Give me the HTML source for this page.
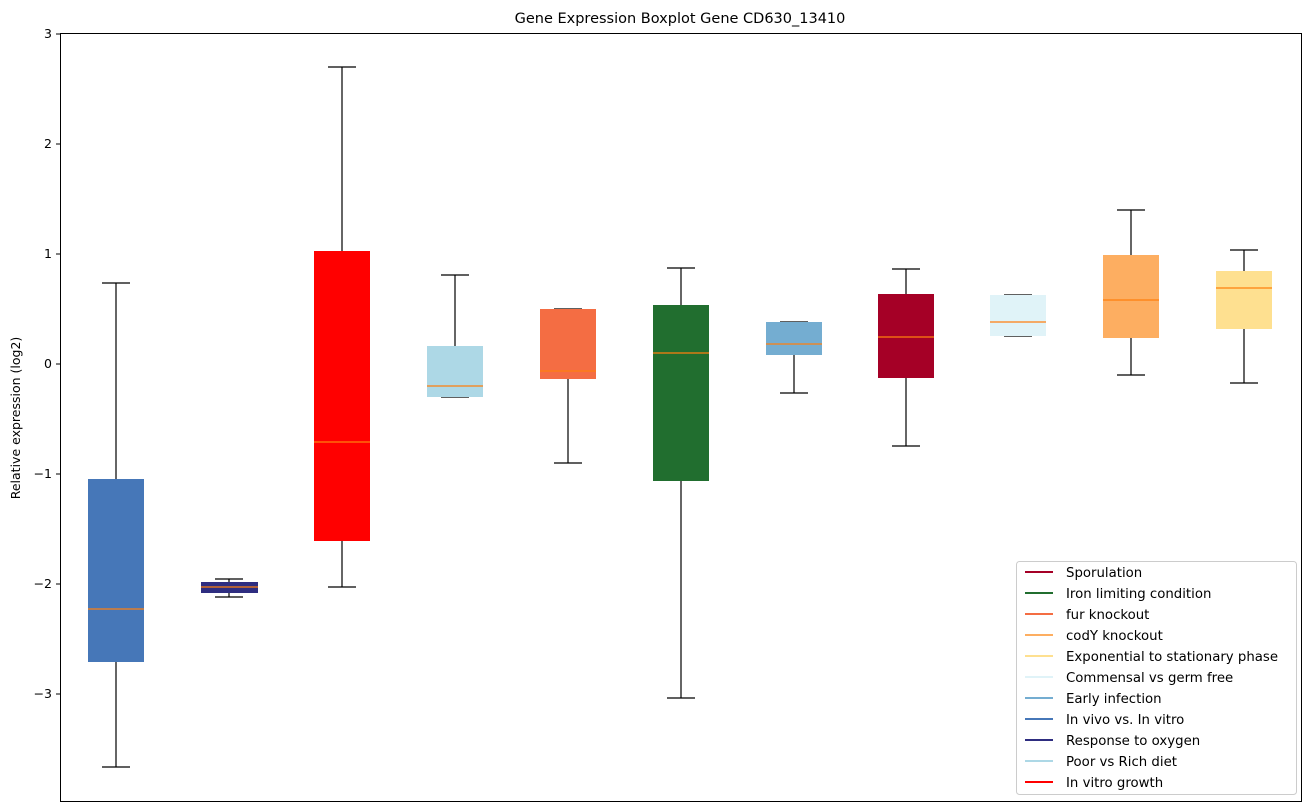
<!DOCTYPE html>
<html><head><meta charset="utf-8"><style>body{margin:0;background:#fff}svg{display:block;font-family:"DejaVu Sans","Liberation Sans",sans-serif}</style></head><body>
<svg width="1309" height="812" xmlns="http://www.w3.org/2000/svg">
<rect width="1309" height="812" fill="#fff"/>
<text x="680" y="23" font-size="14.5" text-anchor="middle">Gene Expression Boxplot Gene CD630_13410</text>
<g font-size="12.5" text-anchor="end">
<g stroke="#000"><line x1="56" x2="60" y1="34" y2="34"/><line x1="56" x2="60" y1="144" y2="144"/><line x1="56" x2="60" y1="254" y2="254"/><line x1="56" x2="60" y1="364" y2="364"/><line x1="56" x2="60" y1="474" y2="474"/><line x1="56" x2="60" y1="584" y2="584"/><line x1="56" x2="60" y1="694" y2="694"/></g>
<text x="52" y="38">3</text><text x="52" y="148">2</text><text x="52" y="258">1</text><text x="52" y="368">0</text><text x="52" y="478">−1</text><text x="52" y="588">−2</text><text x="52" y="698">−3</text>
</g>
<text transform="translate(20,418) rotate(-90)" font-size="12.5" text-anchor="middle">Relative expression (log2)</text>
<g stroke="#000" stroke-width="1.2" fill="none">
<path d="M116 479V283M102 283H130M116 662V767M102 767H130"/>
<path d="M229 582V579M215 579H243M229 593V597M215 597H243"/>
<path d="M342 251V67M328 67H356M342 541V587M328 587H356"/>
<path d="M455 346V275M441 275H469M455 397V397M441 397H469"/>
<path d="M568 309V309M554 309H582M568 379V463M554 463H582"/>
<path d="M681 305V268M667 268H695M681 481V698M667 698H695"/>
<path d="M794 322V322M780 322H808M794 355V393M780 393H808"/>
<path d="M906 294V269M892 269H920M906 378V446M892 446H920"/>
<path d="M1018 295V295M1004 295H1032M1018 336V336M1004 336H1032"/>
<path d="M1131 255V210M1117 210H1145M1131 338V375M1117 375H1145"/>
<path d="M1244 271V250M1230 250H1258M1244 329V383M1230 383H1258"/>
</g>
<g>
<rect x="88" y="479" width="56" height="183" fill="#4677b8"/>
<rect x="201" y="582" width="57" height="11" fill="#2e2d80"/>
<rect x="314" y="251" width="56" height="290" fill="#ff0000"/>
<rect x="427" y="346" width="56" height="51" fill="#add8e6"/>
<rect x="540" y="309" width="56" height="70" fill="#f46d43"/>
<rect x="653" y="305" width="56" height="176" fill="#216e2f"/>
<rect x="766" y="322" width="56" height="33" fill="#74add1"/>
<rect x="878" y="294" width="56" height="84" fill="#a50026"/>
<rect x="990" y="295" width="56" height="41" fill="#e0f3f8"/>
<rect x="1103" y="255" width="56" height="83" fill="#fdae61"/>
<rect x="1216" y="271" width="56" height="58" fill="#fee090"/>
</g>
<g stroke="#ff7f0e" stroke-width="1.2">
<line x1="88" x2="144" y1="609" y2="609"/><line x1="201" x2="258" y1="587" y2="587"/><line x1="314" x2="370" y1="442" y2="442"/><line x1="427" x2="483" y1="386" y2="386"/><line x1="540" x2="596" y1="371" y2="371"/><line x1="653" x2="709" y1="353" y2="353"/><line x1="766" x2="822" y1="344" y2="344"/><line x1="878" x2="934" y1="337" y2="337"/><line x1="990" x2="1046" y1="322" y2="322"/><line x1="1103" x2="1159" y1="300" y2="300"/><line x1="1216" x2="1272" y1="288" y2="288"/>
</g>
<rect x="60.5" y="33.5" width="1241" height="768" fill="none" stroke="#000"/>
<rect x="1016.5" y="561.5" width="280" height="233" rx="3" fill="#fff" fill-opacity="0.8" stroke="#ccc"/>
<g font-size="13.3">
<g stroke-width="2">
<line x1="1025" x2="1053" y1="572" y2="572" stroke="#a50026"/><line x1="1025" x2="1053" y1="593" y2="593" stroke="#216e2f"/><line x1="1025" x2="1053" y1="614" y2="614" stroke="#f46d43"/><line x1="1025" x2="1053" y1="635" y2="635" stroke="#fdae61"/><line x1="1025" x2="1053" y1="656" y2="656" stroke="#fee090"/><line x1="1025" x2="1053" y1="677" y2="677" stroke="#e0f3f8"/><line x1="1025" x2="1053" y1="698" y2="698" stroke="#74add1"/><line x1="1025" x2="1053" y1="719" y2="719" stroke="#4677b8"/><line x1="1025" x2="1053" y1="740" y2="740" stroke="#2e2d80"/><line x1="1025" x2="1053" y1="761" y2="761" stroke="#add8e6"/><line x1="1025" x2="1053" y1="782" y2="782" stroke="#ff0000"/>
</g>
<text x="1066" y="577">Sporulation</text><text x="1066" y="598">Iron limiting condition</text><text x="1066" y="619">fur knockout</text><text x="1066" y="640">codY knockout</text><text x="1066" y="661">Exponential to stationary phase</text><text x="1066" y="682">Commensal vs germ free</text><text x="1066" y="703">Early infection</text><text x="1066" y="724">In vivo vs. In vitro</text><text x="1066" y="745">Response to oxygen</text><text x="1066" y="766">Poor vs Rich diet</text><text x="1066" y="787">In vitro growth</text>
</g>
</svg>
</body></html>
